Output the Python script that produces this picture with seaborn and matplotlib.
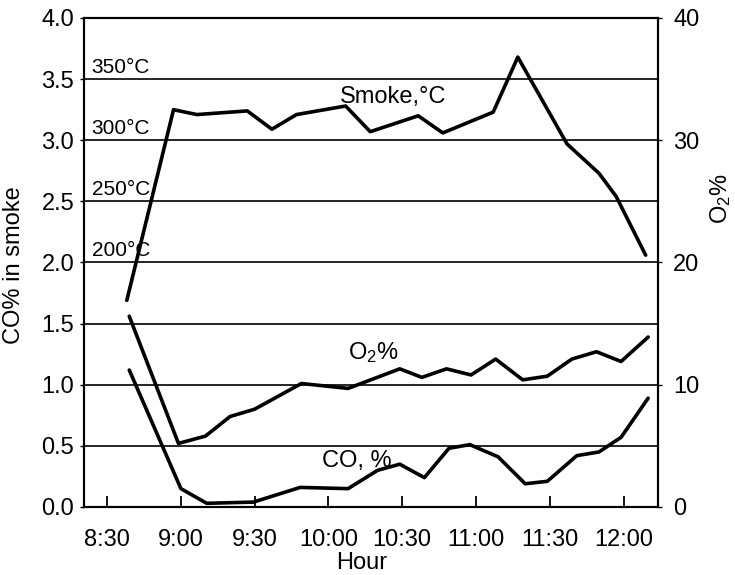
import matplotlib
matplotlib.use('Agg')
import matplotlib.pyplot as plt
import seaborn as sns
import pandas as pd

sns.set_theme(style='white')
plt.rcParams['font.family'] = ['Liberation Sans', 'DejaVu Sans']
plt.rcParams['mathtext.default'] = 'regular'
plt.rcParams['text.color'] = 'black'
plt.rcParams['axes.labelcolor'] = 'black'
plt.rcParams['xtick.color'] = 'black'
plt.rcParams['ytick.color'] = 'black'

# time in minutes after 8:30
smoke_min = [8, 27, 36.5, 57, 67, 77, 97, 107, 126.5, 136.5, 157, 167, 187, 200, 207, 219]
smoke_c = [169, 325, 321, 324, 309, 321, 328, 307, 320, 306, 323, 368, 297, 273, 254, 206]
o2_min = [9, 29, 40, 50, 60, 79, 98, 119, 128, 138, 148, 158, 169, 179, 189, 199, 209, 220]
o2_pct = [15.6, 5.2, 5.8, 7.4, 8.0, 10.1, 9.7, 11.3, 10.6, 11.3, 10.8, 12.1, 10.4, 10.7, 12.1, 12.7, 11.9, 13.9]
co_min = [9, 30, 40.5, 59.5, 78.5, 98, 110, 119, 129, 139, 147.5, 159, 170, 179, 191, 200, 209, 220]
co_pct = [1.12, 0.15, 0.03, 0.04, 0.16, 0.15, 0.30, 0.35, 0.24, 0.48, 0.51, 0.41, 0.19, 0.21, 0.42, 0.45, 0.57, 0.89]

hour_ticks = [0, 30, 60, 90, 120, 150, 180, 210]
hour_labels = ['8:30', '9:00', '9:30', '10:00', '10:30', '11:00', '11:30', '12:00']
co_ticks = [0.0, 0.5, 1.0, 1.5, 2.0, 2.5, 3.0, 3.5, 4.0]
o2_ticks = [0, 10, 20, 30, 40]
temp_marks = [200, 250, 300, 350]

smoke_df = pd.DataFrame({'t': smoke_min, 'v': [c / 100 for c in smoke_c]})
co_df = pd.DataFrame({'t': co_min, 'v': co_pct})
o2_df = pd.DataFrame({'t': o2_min, 'v': o2_pct})

fig = plt.figure(figsize=(7.35, 5.75), dpi=100)
ax = fig.add_axes([0.1143, 0.1183, 0.7809, 0.8504])
ax2 = ax.twinx()

FS = 17
lw = 2.6

for yv in co_ticks[1:-1]:
    ax.axhline(yv, color='black', lw=1.2, zorder=1)

sns.lineplot(data=smoke_df, x='t', y='v', ax=ax, color='black', lw=lw, zorder=3)
sns.lineplot(data=co_df, x='t', y='v', ax=ax, color='black', lw=lw, zorder=3)
sns.lineplot(data=o2_df, x='t', y='v', ax=ax2, color='black', lw=lw, zorder=3)

ax.set_xlim(-9.4, 224)
ax.set_ylim(0, 4.0)
ax2.set_ylim(0, 40)

ax.set_xticks(hour_ticks)
ax.set_xticklabels(hour_labels, fontsize=FS)
ax.set_yticks(co_ticks)
ax.set_yticklabels([f'{v:.1f}' for v in co_ticks], fontsize=FS)
ax2.set_yticks(o2_ticks)
ax2.set_yticklabels([str(v) for v in o2_ticks], fontsize=FS)

ax.tick_params(axis='x', direction='in', length=8, width=1.3, pad=16, colors='black', bottom=True)
ax.tick_params(axis='y', direction='out', length=3, width=1.0, pad=4, colors='black', left=True)
ax2.tick_params(axis='y', direction='out', length=3, width=1.0, pad=8, colors='black', right=True)

for a in (ax, ax2):
    for s in a.spines.values():
        s.set_color('black')
        s.set_linewidth(1.5)

ax.set_xlabel('Hour', fontsize=FS, color='black')
ax.xaxis.set_label_coords(0.484, -0.092)
ax.set_ylabel('CO% in smoke', fontsize=FS, color='black')
ax.yaxis.set_label_coords(-0.103, 0.495)
ax2.set_ylabel(r'O$_2$%', fontsize=FS, rotation=90, color='black')
ax2.yaxis.set_label_coords(1.088, 0.63)

for t in temp_marks:
    ax.text(-6.3, t / 100 + 0.02, f'{t}°C', fontsize=FS - 2, ha='left', va='bottom', color='black')

ax.text(94.5, 3.35, 'Smoke,°C', fontsize=FS, ha='left', va='center', color='black')
ax.text(98, 1.26, r'O$_2$%', fontsize=FS, ha='left', va='center', color='black')
ax.text(87.5, 0.38, 'CO, %', fontsize=FS, ha='left', va='center', color='black')

fig.savefig('out.png', dpi=100, facecolor='white')
